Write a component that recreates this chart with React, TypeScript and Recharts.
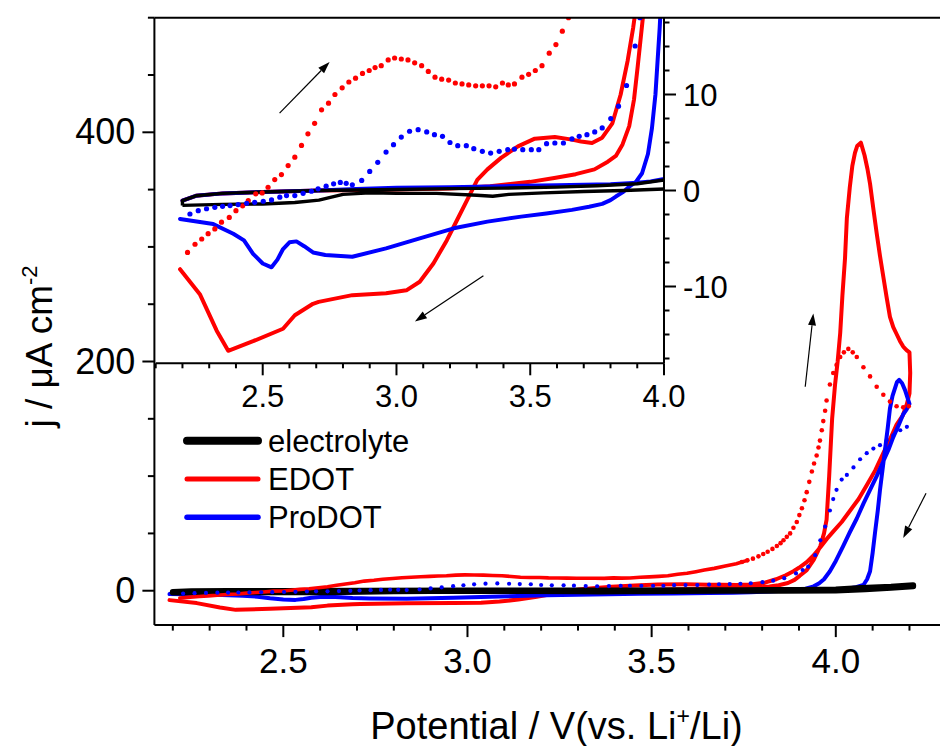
import React from 'react';
import { LineChart, Line, XAxis, YAxis, ReferenceLine } from 'recharts';

const RED = '#ff0000';
const BLUE = '#0000ff';
const BLACK = '#000000';
const FONT = '"Liberation Sans", Arial, Helvetica, sans-serif';

type P = [number, number];

// [potential / V, j / uA cm^-2]
const electrolyte: P[] = [
  [2.2, -1.55], [2.35, -1.45], [2.5, -1.4], [2.62, -1.25], [2.71, -1.0], [2.8, -0.4], [2.9, -0.25],
  [3.0, -0.3], [3.15, -0.3], [3.3, -0.5], [3.36, -0.6], [3.42, -0.4], [3.55, -0.25], [3.7, -0.1],
  [3.85, 0.0], [4.0, 0.15], [4.08, 1.2], [4.15, 2.6], [4.21, 4.0],
  [4.21, 4.8], [4.15, 3.4], [4.07, 2.3], [4.0, 1.1], [3.9, 0.7], [3.75, 0.5], [3.6, 0.35],
  [3.4, 0.25], [3.2, 0.2], [3.0, 0.1], [2.71, 0.0], [2.5, -0.15], [2.35, -0.3], [2.25, -0.55],
  [2.2, -1.05], [2.2, -1.55],
];

const edotSolid: P[] = [
  // forward scan
  [2.2, -1.05], [2.25, -0.55], [2.35, -0.3], [2.5, -0.15], [2.71, 0.0], [2.9, 0.05], [3.0, 0.1],
  [3.2, 0.2], [3.35, 0.45], [3.5, 0.9], [3.59, 1.3], [3.67, 1.7], [3.74, 2.2], [3.79, 3.0],
  [3.82, 3.6], [3.845, 4.8], [3.87, 6.7], [3.888, 9.5], [3.902, 13], [3.921, 18], [3.94, 27],
  [3.958, 39], [3.968, 50], [3.975, 62], [3.982, 100], [3.99, 150], [3.998, 180], [4.005, 200],
  [4.012, 225], [4.018, 258], [4.025, 290], [4.03, 325], [4.038, 352], [4.045, 371], [4.052, 382],
  [4.058, 388], [4.068, 391], [4.078, 380], [4.086, 368], [4.093, 355], [4.102, 333], [4.111, 312],
  [4.12, 292], [4.129, 274], [4.138, 256], [4.147, 239], [4.156, 230], [4.165, 224], [4.174, 218],
  [4.183, 213], [4.192, 210], [4.2, 208], [4.202, 190], [4.2, 172], [4.193, 163],
  // reverse scan
  [4.182, 153], [4.165, 145], [4.147, 132], [4.129, 120], [4.107, 105], [4.084, 92], [4.062, 80],
  [4.039, 70], [4.016, 60], [3.994, 52], [3.975, 45], [3.958, 38], [3.94, 31], [3.921, 25],
  [3.9, 20], [3.885, 17], [3.864, 13.5], [3.838, 10], [3.807, 7.0], [3.769, 5.5], [3.731, 4.95],
  [3.69, 5.1], [3.656, 5.3], [3.592, 5.57], [3.517, 5.4], [3.454, 4.6], [3.391, 3.4], [3.34, 2.2],
  [3.302, 1.1], [3.264, -1.0], [3.226, -3.1], [3.188, -5.2], [3.138, -7.6], [3.087, -9.5],
  [3.037, -10.4], [2.961, -10.7], [2.835, -10.9], [2.709, -11.6], [2.688, -11.8], [2.62, -13.0],
  [2.576, -14.4], [2.464, -15.7], [2.371, -16.7], [2.328, -14.6], [2.265, -10.8], [2.191, -8.2],
];

const prodotSolid: P[] = [
  // forward scan
  [2.2, -1.05], [2.25, -0.55], [2.35, -0.3], [2.5, -0.15], [2.71, 0.0], [2.85, 0.15], [3.0, 0.28],
  [3.2, 0.35], [3.4, 0.45], [3.6, 0.55], [3.8, 0.65], [3.9, 0.8], [3.95, 0.95], [4.0, 1.2], [4.03, 1.8],
  [4.055, 3.0], [4.075, 5.0], [4.085, 10], [4.093, 17], [4.1, 33], [4.107, 52], [4.114, 70],
  [4.12, 88], [4.127, 106], [4.134, 124], [4.141, 142], [4.147, 159], [4.154, 170], [4.161, 177],
  [4.166, 182], [4.172, 184], [4.18, 181], [4.188, 175], [4.195, 168], [4.2, 163],
  // reverse scan
  [4.192, 158], [4.183, 154], [4.17, 144], [4.156, 134], [4.143, 123], [4.129, 113], [4.111, 100],
  [4.093, 88], [4.075, 76], [4.057, 63], [4.038, 51], [4.02, 39], [4.0, 26], [3.984, 17],
  [3.968, 10], [3.955, 6.5], [3.94, 3.8], [3.918, 1.8], [3.895, 0.9], [3.87, 0.4], [3.845, -0.2],
  [3.82, -0.63], [3.8, -1.0], [3.769, -1.39], [3.72, -1.7], [3.656, -2.02], [3.56, -2.4],
  [3.466, -2.72], [3.34, -3.24], [3.214, -3.94], [3.087, -4.98], [2.961, -6.03], [2.835, -6.9],
  [2.734, -6.72], [2.688, -6.45], [2.655, -5.8], [2.626, -5.3], [2.6, -5.4], [2.576, -6.1],
  [2.555, -7.2], [2.533, -8.0], [2.5, -7.6], [2.464, -6.6], [2.43, -5.2], [2.39, -4.5],
  [2.315, -3.5], [2.191, -2.96],
];

const edotDotted: P[] = [
  [2.219, -6.45], [2.247, -5.6], [2.272, -5.05], [2.296, -4.5], [2.321, -4.0], [2.346, -3.3],
  [2.375, -2.8], [2.4, -2.1], [2.425, -1.6], [2.446, -1.05], [2.474, -0.35], [2.498, -0.25],
  [2.52, 0.34], [2.545, 1.14], [2.57, 1.66], [2.595, 2.6], [2.62, 3.47], [2.645, 4.7],
  [2.669, 5.9], [2.694, 7.0], [2.72, 8.4], [2.746, 9.1], [2.77, 10.0], [2.797, 10.7],
  [2.822, 11.3], [2.847, 11.7], [2.873, 12.2], [2.898, 12.5], [2.92, 12.8], [2.943, 13.0],
  [2.969, 13.6], [2.993, 13.8], [3.018, 13.7], [3.043, 13.6], [3.068, 13.3], [3.094, 13.0],
  [3.119, 12.4], [3.144, 11.8], [3.169, 11.6], [3.195, 11.5], [3.22, 11.2], [3.245, 11.1],
  [3.27, 11.0], [3.296, 10.9], [3.321, 10.9], [3.346, 10.9], [3.371, 10.8], [3.396, 11.2],
  [3.418, 11.0], [3.441, 11.1], [3.469, 11.8], [3.494, 12.1], [3.519, 12.5], [3.544, 13.0],
  [3.571, 14.3], [3.596, 15.2], [3.62, 16.6], [3.643, 18.0], [3.67, 19.5], [3.7, 21.5],
  [3.73, 23.5], [3.745, 25], [3.76, 26.5], [3.775, 28], [3.79, 30], [3.803, 32], [3.815, 34],
  [3.828, 36.5], [3.84, 39], [3.85, 41.5], [3.858, 44], [3.867, 47], [3.876, 50], [3.885, 55],
  [3.894, 60], [3.901, 66], [3.908, 72], [3.915, 79], [3.921, 86], [3.928, 95], [3.935, 104],
  [3.941, 111], [3.948, 118], [3.953, 125], [3.957, 131], [3.962, 140], [3.966, 148],
  [3.971, 157], [3.975, 166], [3.984, 180], [3.993, 190], [4.002, 197], [4.012, 204],
  [4.022, 208], [4.034, 211], [4.046, 208], [4.057, 204], [4.075, 195], [4.093, 187],
  [4.111, 178], [4.129, 171], [4.147, 165], [4.165, 161], [4.183, 160], [4.198, 161],
];

const prodotDotted: P[] = [
  [2.228, -2.45], [2.259, -2.1], [2.29, -1.9], [2.321, -1.75], [2.35, -1.65], [2.378, -1.57],
  [2.408, -1.47], [2.44, -1.33], [2.47, -1.23], [2.502, -1.12], [2.533, -0.98], [2.564, -0.7],
  [2.589, -0.53], [2.62, -0.53], [2.651, -0.29], [2.682, -0.08], [2.707, 0.17], [2.737, 0.45],
  [2.765, 0.7], [2.79, 0.84], [2.812, 0.75], [2.835, 0.59], [2.87, 1.05], [2.9, 1.99],
  [2.93, 2.93], [2.961, 4.0], [2.989, 4.77], [3.018, 5.57], [3.049, 6.17], [3.081, 6.34],
  [3.113, 6.1], [3.142, 5.82], [3.172, 5.64], [3.2, 5.0], [3.229, 4.67], [3.261, 4.67],
  [3.289, 4.36], [3.321, 4.08], [3.352, 3.9], [3.384, 4.08], [3.416, 4.25], [3.441, 4.32],
  [3.472, 4.25], [3.504, 4.25], [3.532, 4.25], [3.561, 4.88], [3.592, 4.95], [3.624, 4.95],
  [3.656, 5.37], [3.683, 5.64], [3.712, 5.82], [3.741, 6.1], [3.769, 6.52], [3.801, 7.49],
  [3.83, 8.78], [3.86, 10.94], [3.892, 15.05], [3.91, 18], [3.925, 21], [3.944, 31], [3.958, 44],
  [3.971, 56], [3.984, 70], [3.993, 80], [4.002, 88], [4.016, 97], [4.03, 101], [4.048, 107.6],
  [4.066, 114.7], [4.084, 120], [4.102, 124], [4.12, 127], [4.138, 131], [4.156, 135.5],
  [4.175, 140], [4.193, 143],
];

// axes ticks
const mainXTicks = [2.2, 2.3, 2.4, 2.5, 2.6, 2.7, 2.8, 2.9, 3.0, 3.1, 3.2, 3.3, 3.4, 3.5, 3.6, 3.7, 3.8, 3.9, 4.0, 4.1, 4.2];
const mainXLabels = [2.5, 3.0, 3.5, 4.0];
const mainYTicks = [0, 50, 100, 150, 200, 250, 300, 350, 400, 450, 500];
const mainYLabels = [0, 200, 400];
const insetXTicks = [2.1, 2.2, 2.3, 2.4, 2.5, 2.6, 2.7, 2.8, 2.9, 3.0, 3.1, 3.2, 3.3, 3.4, 3.5, 3.6, 3.7, 3.8, 3.9, 4.0];
const insetXLabels = [2.5, 3.0, 3.5, 4.0];
const insetYTicks = [-17.5, -15, -12.5, -10, -7.5, -5, -2.5, 0, 2.5, 5, 7.5, 10, 12.5, 15, 17.5];
const insetYLabels = [-10, 0, 10];

// scan direction arrows [[tailV, tailJ], [headV, headJ]]
const insetArrows: [P, P][] = [
  [[2.563, 8.06], [2.75, 13.39]],
  [[3.325, -8.88], [3.069, -13.65]],
];
const mainArrows: [P, P][] = [
  [[3.917, 178], [3.939, 242]],
  [[4.245, 85], [4.183, 46]],
];

const legendItems = [
  { name: 'electrolyte', color: BLACK, width: 8 },
  { name: 'EDOT', color: RED, width: 5 },
  { name: 'ProDOT', color: BLUE, width: 5.5 },
];

const toPts = (arr: P[]) => arr.map(([v, j]) => ({ v, j }));
const isIn = (list: number[], v: number) => list.some((l) => Math.abs(l - v) < 1e-6);

const bottomTick = (labels: number[], major: number, minor: number, fs: number, dy: number) => (props: any) => {
  const { x, y, payload } = props;
  const m = isIn(labels, payload.value);
  return (
    <g>
      <line x1={x} y1={y} x2={x} y2={y + (m ? major : minor)} stroke={BLACK} strokeWidth={2} />
      {m && (
        <text x={x} y={y + dy} textAnchor="middle" fontSize={fs} fontFamily={FONT} fill={BLACK}>
          {Number(payload.value).toFixed(1)}
        </text>
      )}
    </g>
  );
};

const leftTick = (labels: number[], major: number, minor: number, fs: number) => (props: any) => {
  const { x, y, payload } = props;
  const m = isIn(labels, payload.value);
  return (
    <g>
      <line x1={x} y1={y} x2={x - (m ? major : minor)} y2={y} stroke={BLACK} strokeWidth={2} />
      {m && (
        <text x={x - 19} y={y + 12} textAnchor="end" fontSize={fs} fontFamily={FONT} fill={BLACK}>
          {String(payload.value)}
        </text>
      )}
    </g>
  );
};

const rightTick = (labels: number[], major: number, minor: number, fs: number) => (props: any) => {
  const { x, y, payload } = props;
  const m = isIn(labels, payload.value);
  return (
    <g>
      <line x1={x} y1={y} x2={x + (m ? major : minor)} y2={y} stroke={BLACK} strokeWidth={2} />
      {m && (
        <text x={x + 19} y={y + 11} textAnchor="start" fontSize={fs} fontFamily={FONT} fill={BLACK}>
          {String(payload.value)}
        </text>
      )}
    </g>
  );
};

const ArrowShape = (props: any) => {
  const { x1, y1, x2, y2 } = props;
  const dx = x2 - x1;
  const dy = y2 - y1;
  const len = Math.hypot(dx, dy) || 1;
  const ux = dx / len;
  const uy = dy / len;
  const hl = 12;
  const hw = 4;
  const bx = x2 - ux * hl;
  const by = y2 - uy * hl;
  const px = -uy * hw;
  const py = ux * hw;
  return (
    <g>
      <line x1={x1} y1={y1} x2={bx} y2={by} stroke={BLACK} strokeWidth={1.2} />
      <polygon points={`${x2},${y2} ${bx + px},${by + py} ${bx - px},${by - py}`} fill={BLACK} />
    </g>
  );
};

const axisLine = { stroke: BLACK, strokeWidth: 2 };

function MainChart() {
  const redLow = edotDotted.filter((p) => p[0] <= 3.76);
  const redHigh = edotDotted.filter((p) => p[0] >= 3.745);
  return (
    <LineChart width={1000} height={746} margin={{ top: 17.7, right: 53.7, bottom: 60.9, left: 94.4 }}>
      <XAxis
        type="number"
        dataKey="v"
        domain={[2.15, 4.3]}
        ticks={mainXTicks}
        interval={0}
        tickSize={0}
        tickMargin={0}
        tickLine={false}
        axisLine={axisLine}
        tick={bottomTick(mainXLabels, 12, 5.5, 35, 48)}
        height={60}
        allowDataOverflow
      />
      <YAxis
        type="number"
        dataKey="j"
        domain={[-30, 500]}
        ticks={mainYTicks}
        interval={0}
        tickSize={0}
        tickMargin={0}
        tickLine={false}
        axisLine={axisLine}
        tick={leftTick(mainYLabels, 12, 6.5, 36)}
        width={60}
        allowDataOverflow
      />
      <ReferenceLine y={500} stroke={BLACK} strokeWidth={2} ifOverflow="visible" />
      <Line data={toPts(edotSolid)} dataKey="j" type="linear" stroke={RED} strokeWidth={4} strokeLinejoin="round" strokeLinecap="round" dot={false} activeDot={false} isAnimationActive={false} />
      <Line data={toPts(prodotSolid)} dataKey="j" type="linear" stroke={BLUE} strokeWidth={4} strokeLinejoin="round" strokeLinecap="round" dot={false} activeDot={false} isAnimationActive={false} />
      <Line data={toPts(electrolyte)} dataKey="j" type="linear" stroke={BLACK} strokeWidth={6} strokeLinejoin="round" strokeLinecap="round" dot={false} activeDot={false} isAnimationActive={false} />
      <Line data={toPts(redLow)} dataKey="j" type="linear" stroke={RED} strokeWidth={3.6} strokeLinejoin="round" strokeLinecap="round" dot={false} activeDot={false} isAnimationActive={false} />
      <Line data={toPts(redHigh)} dataKey="j" type="linear" stroke="none" dot={{ r: 2.3, fill: RED, stroke: 'none', strokeWidth: 0 }} activeDot={false} isAnimationActive={false} />
      <Line data={toPts(prodotDotted)} dataKey="j" type="linear" stroke="none" dot={{ r: 2.1, fill: BLUE, stroke: 'none', strokeWidth: 0 }} activeDot={false} isAnimationActive={false} />
      {mainArrows.map((a, i) => (
        <ReferenceLine key={i} segment={[{ x: a[0][0], y: a[0][1] }, { x: a[1][0], y: a[1][1] }]} ifOverflow="visible" shape={(p: any) => <ArrowShape {...p} />} />
      ))}
    </LineChart>
  );
}

function InsetChart() {
  return (
    <LineChart width={760} height={420} margin={{ top: 17.7, right: 56, bottom: 26.7, left: 155.7 }}>
      <XAxis
        type="number"
        dataKey="v"
        domain={[2.1, 4.0]}
        ticks={insetXTicks}
        interval={0}
        tickSize={0}
        tickMargin={0}
        tickLine={false}
        axisLine={axisLine}
        tick={bottomTick(insetXLabels, 12, 5, 31, 44)}
        height={30}
        allowDataOverflow
      />
      <YAxis
        type="number"
        dataKey="j"
        orientation="right"
        domain={[-18, 18]}
        ticks={insetYTicks}
        interval={0}
        tickSize={0}
        tickMargin={0}
        tickLine={false}
        axisLine={axisLine}
        tick={rightTick(insetYLabels, 12, 5.5, 31)}
        width={40}
        allowDataOverflow
      />
      <Line data={toPts(edotSolid)} dataKey="j" type="linear" stroke={RED} strokeWidth={4} strokeLinejoin="round" strokeLinecap="round" dot={false} activeDot={false} isAnimationActive={false} />
      <Line data={toPts(prodotSolid)} dataKey="j" type="linear" stroke={BLUE} strokeWidth={4} strokeLinejoin="round" strokeLinecap="round" dot={false} activeDot={false} isAnimationActive={false} />
      <Line data={toPts(electrolyte)} dataKey="j" type="linear" stroke={BLACK} strokeWidth={3.4} strokeLinejoin="round" dot={false} activeDot={false} isAnimationActive={false} />
      <Line data={toPts(edotDotted)} dataKey="j" type="linear" stroke="none" dot={{ r: 2.6, fill: RED, stroke: 'none', strokeWidth: 0 }} activeDot={false} isAnimationActive={false} />
      <Line data={toPts(prodotDotted)} dataKey="j" type="linear" stroke="none" dot={{ r: 2.6, fill: BLUE, stroke: 'none', strokeWidth: 0 }} activeDot={false} isAnimationActive={false} />
      {insetArrows.map((a, i) => (
        <ReferenceLine key={i} segment={[{ x: a[0][0], y: a[0][1] }, { x: a[1][0], y: a[1][1] }]} ifOverflow="visible" shape={(p: any) => <ArrowShape {...p} />} />
      ))}
    </LineChart>
  );
}

export default function App() {
  return (
    <div style={{ position: 'absolute', left: 0, top: 0, width: 940, height: 746, overflow: 'hidden', background: '#fff' }}>
      <div style={{ position: 'absolute', left: 0, top: 0 }}>
        <InsetChart />
      </div>
      <div style={{ position: 'absolute', left: 0, top: 0 }}>
        <MainChart />
      </div>
      <svg width={940} height={746} style={{ position: 'absolute', left: 0, top: 0, pointerEvents: 'none' }}>
        <text x={556.5} y={739} textAnchor="middle" fontSize={38} fontFamily={FONT} fill={BLACK}>
          Potential / V(vs. Li
          <tspan dy={-15} fontSize={23}>+</tspan>
          <tspan dy={15}>/Li)</tspan>
        </text>
        <text x={52} y={346.5} transform="rotate(-90, 52, 346.5)" textAnchor="middle" fontSize={37} fontFamily={FONT} fill={BLACK}>
          j / μA cm
          <tspan dy={-15} fontSize={22}>-2</tspan>
        </text>
        {legendItems.map((it, i) => {
          const cy = 440.7 + i * 38.3;
          return (
            <g key={it.name}>
              <line x1={187} y1={cy} x2={258} y2={cy} stroke={it.color} strokeWidth={it.width} strokeLinecap="round" />
              <text x={268} y={cy + 11} fontSize={31} fontFamily={FONT} fill={BLACK}>
                {it.name}
              </text>
            </g>
          );
        })}
      </svg>
    </div>
  );
}
